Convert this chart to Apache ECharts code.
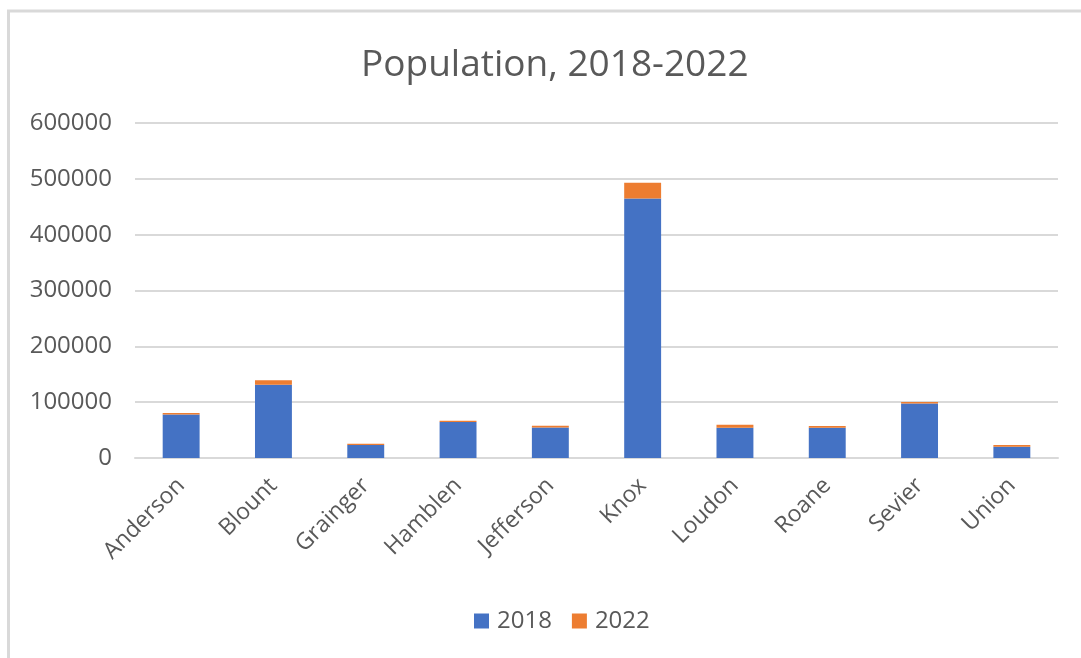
<!DOCTYPE html>
<html>
<head>
<meta charset="utf-8">
<script src="https://cdn.jsdelivr.net/npm/echarts@6/dist/echarts.min.js"></script>
<style>
  html, body { margin: 0; padding: 0; background: #ffffff; }
  #chart { width: 1081px; height: 658px; }
</style>
</head>
<body>
<div id="chart"></div>
<script>
// County names along the category axis
const counties = ['Anderson', 'Blount', 'Grainger', 'Hamblen', 'Jefferson', 'Knox', 'Loudon', 'Roane', 'Sevier', 'Union'];
// Stacked segments per county
const pop2018 = [77900, 131400, 23200, 64300, 54600, 464900, 54100, 54100, 97500, 20200];
const pop2022 = [2500, 7900, 2300, 2600, 3000, 28000, 5400, 3000, 3000, 3000];
// Value axis ticks
const yTicks = [0, 100000, 200000, 300000, 400000, 500000, 600000];

const FONT = '"Open Sans", sans-serif';
const TEXT = '#595959';
const GRID = '#d9d9d9';

const chart = echarts.init(document.getElementById('chart'), null, { renderer: 'canvas' });

chart.setOption({
  backgroundColor: '#ffffff',
  animation: false,
  title: {
    text: 'Population, 2018-2022',
    left: 356,
    top: 42,
    textStyle: { fontFamily: FONT, fontSize: 37, fontWeight: 'normal', color: TEXT }
  },
  legend: {
    data: ['2018', '2022'],
    bottom: 20,
    left: 469,
    itemWidth: 15,
    itemHeight: 15,
    itemGap: 20,
    icon: 'rect',
    textStyle: { fontFamily: FONT, fontSize: 24, color: TEXT, padding: [0, 0, 0, 3] }
  },
  grid: { left: 135, right: 23, top: 123, bottom: 200, containLabel: false },
  xAxis: {
    type: 'category',
    data: counties,
    axisLine: { lineStyle: { color: GRID, width: 2 } },
    axisTick: { show: false },
    axisLabel: {
      rotate: 45,
      interval: 0,
      margin: 24,
      fontFamily: FONT,
      fontSize: 23,
      color: TEXT
    }
  },
  yAxis: {
    type: 'value',
    min: yTicks[0],
    max: yTicks[yTicks.length - 1],
    interval: yTicks[1] - yTicks[0],
    axisLine: { show: false },
    axisTick: { show: false },
    splitLine: { lineStyle: { color: GRID, width: 2 } },
    axisLabel: {
      margin: 23,
      fontFamily: FONT,
      fontSize: 24,
      color: TEXT,
      formatter: (v) => String(v)
    }
  },
  series: [
    {
      name: '2018',
      type: 'bar',
      stack: 'pop',
      data: pop2018,
      barCategoryGap: '60%',
      itemStyle: { color: '#4472C4' }
    },
    {
      name: '2022',
      type: 'bar',
      stack: 'pop',
      data: pop2022,
      barCategoryGap: '60%',
      itemStyle: { color: '#ED7D31' }
    }
  ],
  graphic: [
    {
      type: 'rect',
      shape: { x: 8.5, y: 11, width: 1090, height: 700 },
      style: { fill: 'none', stroke: GRID, lineWidth: 3 },
      silent: true
    }
  ]
});
</script>
</body>
</html>
